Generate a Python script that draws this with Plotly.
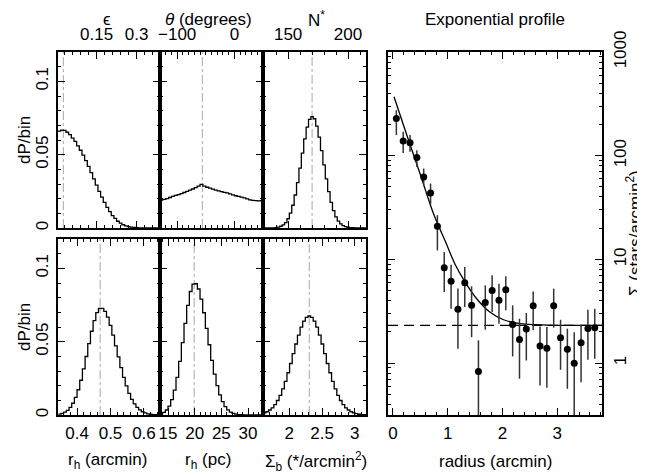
import numpy as np
import plotly.graph_objects as go

FONT = "Liberation Sans"
FS = 17
PAGE_W, PAGE_H = 645, 473
OFF = 8                      # default page margin of the browser body
W, H = PAGE_W - OFF, PAGE_H - OFF
# outer edges (page pixels) of the block of panels
PL, PR, PT, PB = 58, 602, 52, 415

# ---------------- data ----------------
# posterior histograms: first bin edge, bin width, dP/bin values
eps_edge0, eps_bin = 0.005, 0.01
eps_vals = [0.066, 0.0668, 0.0665, 0.0653, 0.0636, 0.0613, 0.059, 0.056, 0.053, 0.0497,
            0.046, 0.042, 0.0378, 0.0335, 0.0292, 0.025, 0.021, 0.0175, 0.014, 0.0112,
            0.0085, 0.0065, 0.0046, 0.0033, 0.0022, 0.0015, 0.001, 0.0006, 0.0004, 0.0002,
            0.0001, 0.0001, 0, 0, 0, 0, 0, 0, 0]

theta_edge0, theta_bin = -130, 5
theta_vals = [0.0190, 0.0195, 0.0200, 0.0208, 0.0215, 0.0222, 0.0228, 0.0235, 0.0242, 0.0250,
              0.0258, 0.0266, 0.0275, 0.0285, 0.0298, 0.0285, 0.0278, 0.0272, 0.0265, 0.0258,
              0.0253, 0.0248, 0.0243, 0.0240, 0.0232, 0.0226, 0.0220, 0.0215, 0.0210, 0.0205,
              0.0198, 0.0192, 0.0188, 0.0186, 0.0185, 0.0187]

nstar_edge0, nstar_bin = 129, 2
nstar_vals = [0, 0, 0, 0.0001, 0.0001, 0.0003, 0.0006, 0.0012, 0.0021, 0.0037,
              0.0063, 0.0101, 0.0155, 0.0225, 0.0310, 0.0408, 0.0510, 0.0608, 0.0688, 0.0740,
              0.0760, 0.0745, 0.0695, 0.0620, 0.0528, 0.0430, 0.0335, 0.0248, 0.0175, 0.0118,
              0.0076, 0.0047, 0.0028, 0.0016, 0.0009, 0.0005, 0.0003, 0.0002, 0.0001, 0.0001,
              0, 0, 0]

rha_edge0, rha_bin = 0.344, 0.008
rha_vals = [0.0006, 0.0011, 0.0019, 0.0032, 0.0052, 0.0080, 0.0120, 0.0172, 0.0237, 0.0314,
            0.0399, 0.0487, 0.0571, 0.0644, 0.0698, 0.0726, 0.0727, 0.0707, 0.0667, 0.0611,
            0.0545, 0.0471, 0.0396, 0.0323, 0.0256, 0.0198, 0.0148, 0.0107, 0.0076, 0.0052,
            0.0035, 0.0022, 0.0014, 0.0008, 0.0005, 0.0003, 0.0002, 0.0001]

rhp_edge0, rhp_bin = 13.5, 0.5
rhp_vals = [0.0009, 0.0018, 0.0034, 0.0061, 0.0105, 0.0169, 0.0256, 0.0366, 0.0493, 0.0625,
            0.0747, 0.0842, 0.0893, 0.0895, 0.0859, 0.0790, 0.0697, 0.0590, 0.0479, 0.0373,
            0.0279, 0.0200, 0.0137, 0.0091, 0.0057, 0.0035, 0.0020, 0.0011, 0.0006, 0.0003,
            0.0002, 0.0001, 0, 0, 0, 0, 0, 0, 0]

sigb_edge0, sigb_bin = 1.605, 0.04
sigb_vals = [0.0014, 0.0022, 0.0034, 0.0049, 0.0071, 0.0099, 0.0134, 0.0178, 0.0229, 0.0288,
             0.0351, 0.0418, 0.0484, 0.0545, 0.0599, 0.0640, 0.0666, 0.0675, 0.0666, 0.0640,
             0.0599, 0.0545, 0.0484, 0.0418, 0.0351, 0.0288, 0.0229, 0.0178, 0.0134, 0.0099,
             0.0071, 0.0049, 0.0034, 0.0022, 0.0014, 0.0009, 0.0005, 0.0003, 0.0002, 0.0001]

best_fit = [0.025, -56, 170, 0.469, 19.9, 2.305]

x_titles = ["ϵ", "<i>θ</i> (degrees)", "N<sup>*</sup>",
            "r<sub>h</sub> (arcmin)", "r<sub>h</sub> (pc)", "Σ<sub>b</sub> (*/arcmin<sup>2</sup>)"]
x_tickvals = [[0.15, 0.3], [-100, 0], [150, 200], [0.4, 0.5, 0.6], [15, 20, 25, 30], [2, 2.5, 3]]
x_ticktext = [["0.15", "0.3"], ["−100", "0"], ["150", "200"], ["0.4", "0.5", "0.6"],
              ["15", "20", "25", "30"], ["2", "2.5", "3"]]
hist_ytickvals = [0, 0.05, 0.1]
hist_yticktext = ["0", "0.05", "0.1"]

# radial profile
prof_r = [0.0625, 0.1875, 0.3125, 0.4375, 0.5625, 0.6875, 0.8125, 0.9375, 1.0625, 1.1875,
          1.3125, 1.4375, 1.5625, 1.6875, 1.8125, 1.9375, 2.0625, 2.1875, 2.3125, 2.4375,
          2.5625, 2.6875, 2.8125, 2.9375, 3.0625, 3.1875, 3.3125, 3.4375, 3.5625, 3.6875]
prof_s = [229, 139, 133, 96, 62.4, 43.7, 20.9, 8.33, 6.15, 3.30,
          5.97, 3.61, 0.832, 3.85, 5.03, 4.03, 5.11, 2.36, 1.69, 2.13,
          3.58, 1.46, 1.39, 3.58, 1.76, 1.36, 1.0, 1.57, 2.16, 2.20]
prof_hi = [275, 170, 158, 113, 75.2, 53.9, 26.7, 11.8, 8.91, 5.23,
           8.45, 5.50, 1.66, 5.62, 7.03, 5.84, 6.87, 3.61, 2.68, 3.04,
           4.92, 2.26, 2.23, 5.23, 2.62, 2.15, 1.99, 2.31, 3.28, 3.35]
prof_lo = [158, 106, 109, 78, 51.9, 34.0, 12.2, 4.85, 3.35, 1.38,
           3.47, 1.78, 0.1, 2.10, 3.11, 2.40, 3.23, 1.16, 0.707, 1.06,
           2.07, 0.609, 0.579, 2.20, 0.863, 0.566, 0.1, 0.656, 1.08, 1.10]
fit_r = [0.02, 0.25, 0.5, 0.74, 0.98, 1.13, 1.32, 1.53, 1.77, 2.02, 2.32, 2.8, 3.3, 3.82]
fit_s = [370, 160, 66, 27.7, 14, 9.1, 6.05, 4.18, 3.11, 2.62, 2.40, 2.33, 2.31, 2.31]
background = 2.31

# ---------------- layout helpers ----------------
ML, MT = PL - OFF, PT - OFF
MR = W - (PR - OFF)
MB = H - (PB - OFF)
AW, AH = PR - PL, PB - PT


def fx(px):            # page px -> plot-area / paper fraction
    return (px - PL) / AW


def fy(py):
    return 1 - (py - PT) / AH


hists = [(eps_edge0, eps_bin, eps_vals), (theta_edge0, theta_bin, theta_vals),
         (nstar_edge0, nstar_bin, nstar_vals), (rha_edge0, rha_bin, rha_vals),
         (rhp_edge0, rhp_bin, rhp_vals), (sigb_edge0, sigb_bin, sigb_vals)]
x_ranges = [[0.005, 0.388], [-130, 50], [129, 215], [0.343, 0.648], [13.5, 32.8], [1.6, 3.17]]
x_minor = [0.03, 10, 10, 0.02, 1, 0.1]
col_px = [(58, 160), (160, 263), (263, 366)]
row_px = [(52, 228), (239, 415)]
title_x_px = [107, 208, 316]
title_y_px = [19, 461]

tfont = dict(family=FONT, size=FS, color="black")
axis_style = dict(showline=True, linecolor="black", linewidth=1.5, mirror="allticks",
                  ticks="inside", ticklen=7, tickwidth=1.2, tickcolor="black",
                  showgrid=False, zeroline=False, tickfont=tfont, automargin=False)
minor_style = dict(ticks="inside", ticklen=3.5, tickwidth=1, tickcolor="black", showgrid=False)


def add_text(text, px, py, angle=0):
    fig.add_annotation(text=text, xref="paper", yref="paper", x=fx(px), y=fy(py),
                       showarrow=False, font=tfont, textangle=angle, borderpad=0,
                       xanchor="center", yanchor="middle")


fig = go.Figure()
layout = {}
for i in range(6):
    r, c = divmod(i, 3)
    n = i + 1
    xa = "x" if n == 1 else f"x{n}"
    ya = "y" if n == 1 else f"y{n}"
    e0, bw, vals = hists[i]
    edges = e0 + bw * np.arange(len(vals) + 1)
    fig.add_trace(go.Scatter(x=edges, y=list(vals) + [vals[-1]], mode="lines",
                             line=dict(shape="hv", color="black", width=1.3),
                             xaxis=xa, yaxis=ya, showlegend=False, hoverinfo="skip"))
    fig.add_shape(type="line", xref=xa, yref=f"{ya} domain", x0=best_fit[i], x1=best_fit[i],
                  y0=0, y1=1, line=dict(color="#a8a8a8", width=1, dash="dashdot"), layer="below")
    x0, x1 = col_px[c]
    y0, y1 = row_px[r]
    layout["xaxis" if n == 1 else f"xaxis{n}"] = dict(
        domain=[fx(x0), fx(x1)], anchor=ya, range=x_ranges[i],
        side="top" if r == 0 else "bottom",
        tickmode="array", tickvals=x_tickvals[i], ticktext=x_ticktext[i],
        ticklabelstandoff=3 if r == 0 else 2,
        minor=dict(dtick=x_minor[i], tick0=0, **minor_style),
        **axis_style)
    layout["yaxis" if n == 1 else f"yaxis{n}"] = dict(
        domain=[fy(y1), fy(y0)], anchor=xa, range=[0, 0.12],
        tickmode="array", tickvals=hist_ytickvals, ticktext=hist_yticktext,
        showticklabels=(c == 0), tickangle=-90, ticklabelstandoff=1,
        minor=dict(dtick=0.01, tick0=0, **minor_style), **axis_style)
    add_text(x_titles[i], title_x_px[c], title_y_px[r])

for y0, y1 in row_px:
    add_text("dP/bin", 24, (y0 + y1) / 2, angle=-90)

# radial profile panel
fig.add_trace(go.Scatter(x=[-0.09, 3.82], y=[background, background], mode="lines",
                         line=dict(color="black", width=1.3, dash="10px,6px"),
                         xaxis="x7", yaxis="y7", showlegend=False, hoverinfo="skip"))
fig.add_trace(go.Scatter(x=fit_r, y=fit_s, mode="lines",
                         line=dict(color="black", width=1.3, shape="spline", smoothing=0.8),
                         xaxis="x7", yaxis="y7", showlegend=False, hoverinfo="skip"))
err_p = [h - s for h, s in zip(prof_hi, prof_s)]
err_m = [s - l for s, l in zip(prof_s, prof_lo)]
fig.add_trace(go.Scatter(x=prof_r, y=prof_s, mode="markers",
                         marker=dict(color="black", size=7),
                         error_y=dict(type="data", symmetric=False, array=err_p, arrayminus=err_m,
                                      width=0, thickness=1.5, color="#333333"),
                         xaxis="x7", yaxis="y7", showlegend=False, hoverinfo="skip"))

log_minor = [m * d for d in (0.1, 1, 10, 100) for m in range(2, 10) if m * d >= 0.316]
layout["xaxis7"] = dict(domain=[fx(388), fx(602)], anchor="y7", range=[-0.09, 3.82],
                        tickmode="array", tickvals=[0, 1, 2, 3], ticktext=["0", "1", "2", "3"],
                        ticklabelstandoff=2,
                        minor=dict(dtick=0.2, tick0=0, **minor_style),
                        **axis_style)
layout["yaxis7"] = dict(domain=[fy(415), fy(52)], anchor="x7", type="log",
                        range=[-0.5, 3], side="right",
                        tickmode="array", tickvals=[1, 10, 100, 1000],
                        ticktext=["1", "10", "100", "1000"], tickangle=-90,
                        ticklabelstandoff=2,
                        minor=dict(tickvals=log_minor, **minor_style),
                        **axis_style)

add_text("Exponential profile", 495, title_y_px[0])
add_text("radius (arcmin)", 495, title_y_px[1])
add_text("Σ (stars/arcmin<sup>2</sup>)", 634, 233, angle=-90)

fig.update_layout(width=W, height=H, margin=dict(l=ML, r=MR, t=MT, b=MB, pad=0),
                  autosize=False, paper_bgcolor="white", plot_bgcolor="white",
                  font=tfont, **layout)

fig.write_html("out.html")
